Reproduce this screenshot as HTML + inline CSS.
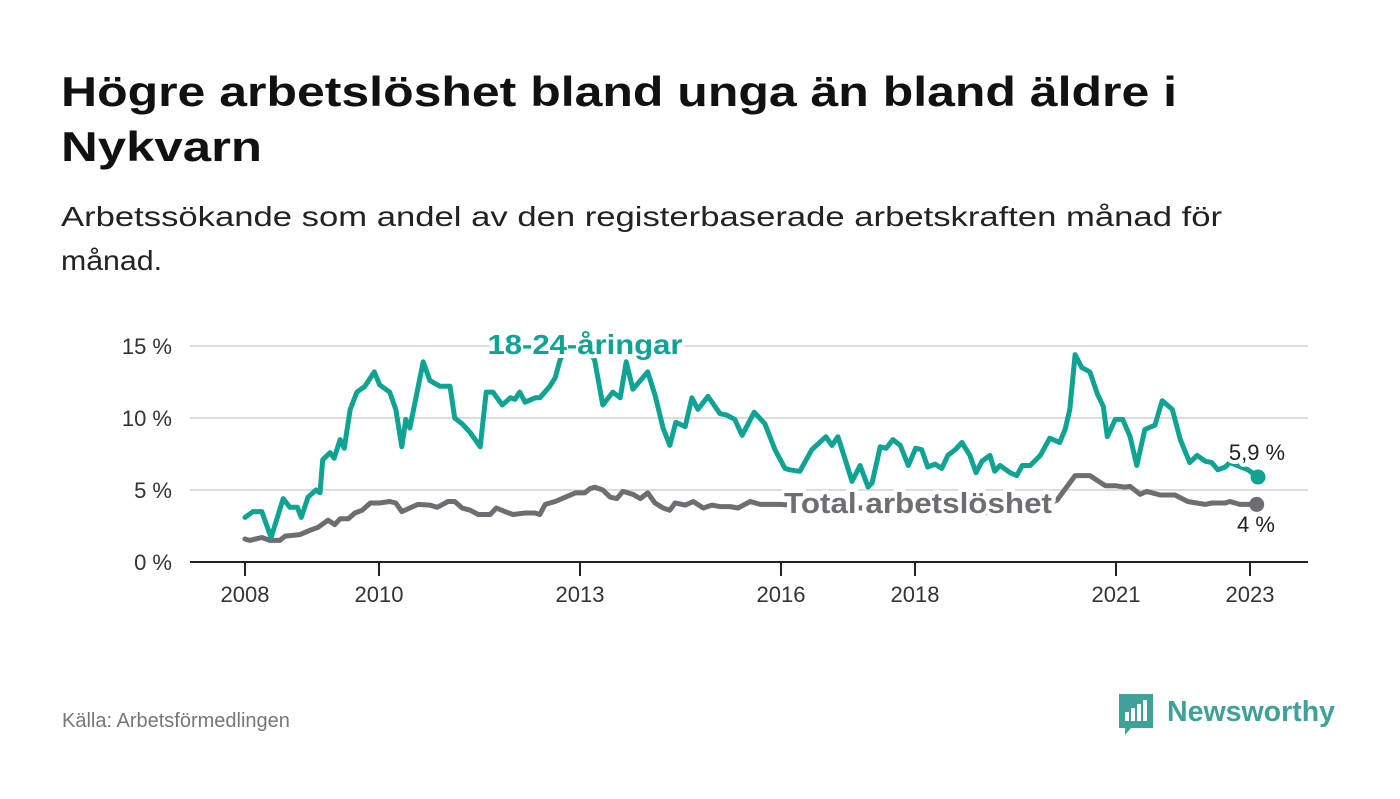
<!DOCTYPE html>
<html><head><meta charset="utf-8"><style>
body{margin:0;background:#fff;}
svg text{font-family:"Liberation Sans",sans-serif;}
</style></head><body>
<svg id="chart" width="1400" height="794" viewBox="0 0 1400 794" xmlns="http://www.w3.org/2000/svg">
<rect width="1400" height="794" fill="#fff"/>
<text x="61" y="106" font-size="42" font-weight="bold" fill="#111" textLength="1116" lengthAdjust="spacingAndGlyphs">Högre arbetslöshet bland unga än bland äldre i</text>
<text x="61" y="161" font-size="42" font-weight="bold" fill="#111" textLength="201" lengthAdjust="spacingAndGlyphs">Nykvarn</text>
<text x="61" y="226" font-size="28" fill="#222" textLength="1161" lengthAdjust="spacingAndGlyphs">Arbetssökande som andel av den registerbaserade arbetskraften månad för</text>
<text x="61" y="270" font-size="28" fill="#222" textLength="101" lengthAdjust="spacingAndGlyphs">månad.</text>
<g id="grid"></g>
<g id="series"></g>
<g id="labels"></g>
<text x="62" y="727" font-size="20" fill="#777">Källa: Arbetsförmedlingen</text>
<g>
<path d="M1119 694 h34 v34 h-22 l-6 7 v-7 h-6 z" fill="#3fa198"/>
<rect x="1125" y="712" width="4" height="9" fill="#fff"/><rect x="1131" y="708" width="4" height="13" fill="#fff"/><rect x="1137" y="704" width="4" height="17" fill="#fff"/><rect x="1143" y="700" width="4" height="21" fill="#fff"/>
<text x="1167" y="721" font-size="29" font-weight="bold" fill="#3fa198" textLength="168" lengthAdjust="spacingAndGlyphs">Newsworthy</text>
</g>
</svg>
<script>
const yTicks=[0,5,10,15];
const yTickLabels=["0 %","5 %","10 %","15 %"];
const xTicks=[2008,2010,2013,2016,2018,2021,2023];
const youthDates=[2008.00,2008.12,2008.25,2008.39,2008.57,2008.67,2008.78,2008.84,2008.94,2009.06,2009.12,2009.16,2009.27,2009.33,2009.42,2009.48,2009.57,2009.67,2009.79,2009.93,2010.01,2010.16,2010.25,2010.34,2010.40,2010.46,2010.66,2010.76,2010.91,2011.06,2011.13,2011.24,2011.36,2011.51,2011.60,2011.70,2011.84,2011.96,2012.03,2012.10,2012.18,2012.33,2012.40,2012.55,2012.63,2012.70,2012.81,2013.07,2013.22,2013.34,2013.49,2013.60,2013.69,2013.79,2013.90,2014.01,2014.12,2014.24,2014.34,2014.43,2014.57,2014.67,2014.76,2014.91,2015.09,2015.19,2015.31,2015.42,2015.60,2015.76,2015.91,2016.06,2016.13,2016.28,2016.46,2016.67,2016.76,2016.85,2016.96,2017.06,2017.18,2017.30,2017.36,2017.48,2017.57,2017.67,2017.78,2017.90,2018.01,2018.10,2018.19,2018.30,2018.40,2018.49,2018.60,2018.70,2018.82,2018.91,2019.00,2019.12,2019.19,2019.27,2019.42,2019.52,2019.60,2019.72,2019.87,2020.01,2020.16,2020.24,2020.31,2020.39,2020.49,2020.61,2020.72,2020.81,2020.87,2020.99,2021.10,2021.21,2021.31,2021.43,2021.58,2021.69,2021.84,2021.96,2022.10,2022.21,2022.33,2022.43,2022.52,2022.63,2022.70,2022.97,2023.12];
const youthValues=[3.1,3.5,3.5,1.7,4.4,3.8,3.8,3.1,4.5,5.0,4.8,7.1,7.6,7.2,8.5,7.9,10.6,11.8,12.2,13.2,12.3,11.8,10.6,8.0,9.9,9.3,13.9,12.6,12.2,12.2,10.0,9.6,9.0,8.0,11.8,11.8,10.9,11.4,11.3,11.8,11.1,11.4,11.4,12.2,12.8,14.0,15.0,15.2,14.0,10.9,11.8,11.4,13.9,12.0,12.6,13.2,11.6,9.3,8.1,9.7,9.4,11.4,10.6,11.5,10.3,10.2,9.9,8.8,10.4,9.6,7.8,6.5,6.4,6.3,7.8,8.7,8.1,8.7,7.1,5.6,6.7,5.2,5.5,8.0,7.9,8.5,8.1,6.7,7.9,7.8,6.6,6.8,6.5,7.4,7.8,8.3,7.4,6.2,7.0,7.4,6.3,6.7,6.2,6.0,6.7,6.7,7.4,8.6,8.3,9.2,10.6,14.4,13.5,13.2,11.7,10.8,8.7,9.9,9.9,8.7,6.7,9.2,9.5,11.2,10.6,8.5,6.9,7.4,7.0,6.9,6.4,6.6,6.9,6.4,5.9];
const totalDates=[2008.00,2008.07,2008.25,2008.37,2008.52,2008.60,2008.82,2008.97,2009.09,2009.24,2009.34,2009.42,2009.54,2009.64,2009.75,2009.87,2010.01,2010.16,2010.25,2010.34,2010.46,2010.58,2010.76,2010.87,2011.03,2011.13,2011.24,2011.36,2011.48,2011.66,2011.75,2011.88,2012.00,2012.18,2012.33,2012.40,2012.48,2012.63,2012.78,2012.93,2013.07,2013.15,2013.22,2013.34,2013.45,2013.55,2013.64,2013.79,2013.90,2014.01,2014.12,2014.24,2014.34,2014.42,2014.57,2014.69,2014.84,2014.97,2015.09,2015.24,2015.36,2015.54,2015.69,2015.99,2016.28,2016.88,2017.48,2018.07,2018.67,2019.27,2019.72,2020.12,2020.39,2020.61,2020.84,2020.99,2021.13,2021.21,2021.36,2021.46,2021.66,2021.88,2022.07,2022.33,2022.43,2022.63,2022.70,2022.85,2023.10];
const totalValues=[1.6,1.5,1.7,1.5,1.5,1.8,1.9,2.2,2.4,2.9,2.6,3.0,3.0,3.4,3.6,4.1,4.1,4.2,4.1,3.5,3.75,4.0,3.95,3.8,4.2,4.2,3.75,3.6,3.3,3.3,3.75,3.5,3.3,3.4,3.4,3.3,4.0,4.2,4.5,4.8,4.8,5.1,5.2,5.0,4.5,4.4,4.9,4.7,4.4,4.8,4.1,3.75,3.6,4.1,3.95,4.2,3.75,3.95,3.85,3.85,3.75,4.2,4.0,4.0,3.9,3.8,3.7,3.6,3.5,3.4,3.6,4.3,6.0,6.0,5.3,5.3,5.2,5.25,4.7,4.9,4.65,4.65,4.2,4.0,4.1,4.1,4.2,4.0,4.0];
const youthLast=5.9, totalLast=4;

const NS="http://www.w3.org/2000/svg";
const X0=190,X1=1308;
function xs(t){return 245+(t-2008)*67;}
function ys(v){return 562-v*14.4;}
function mk(tag,attrs,parent){const e=document.createElementNS(NS,tag);for(const k in attrs)e.setAttribute(k,attrs[k]);parent.appendChild(e);return e;}
const grid=document.getElementById('grid'),series=document.getElementById('series'),labels=document.getElementById('labels');
yTicks.forEach((v,i)=>{
  if(v>0){const g=mk('line',{x1:X0,x2:X1,y1:ys(v),y2:ys(v),stroke:'#dcdcdc','stroke-width':2},grid);
  
  }
  const t=mk('text',{x:172,y:ys(v)+8,'font-size':22,'text-anchor':'end',fill:'#333'},grid);
  t.textContent=yTickLabels[i];
  
  
});
const ax=mk('line',{x1:X0,x2:X1,y1:562,y2:562,stroke:'#222','stroke-width':2},grid);


xTicks.forEach(y=>{
  mk('line',{x1:xs(y),x2:xs(y),y1:562,y2:576,stroke:'#222','stroke-width':2},grid);
  const t=mk('text',{x:xs(y),y:602,'font-size':22,'text-anchor':'middle',fill:'#333'},grid);
  t.textContent=y;
  
  
});
function line(d,v,col,name){
  const p=mk('path',{d:d.map((t,i)=>(i?'L':'M')+xs(t).toFixed(1)+','+ys(v[i]).toFixed(1)).join(''),fill:'none',stroke:col,'stroke-width':5,'stroke-linejoin':'round','stroke-linecap':'round'},series);
  
  
}
line(totalDates,totalValues,'#6d6d72','total-line');
line(youthDates,youthValues,'#0fa394','youth-line');
const d1=mk('circle',{cx:xs(youthDates[youthDates.length-1]),cy:ys(youthLast),r:7.5,fill:'#0fa394'},series);


const d2=mk('circle',{cx:xs(totalDates[totalDates.length-1]),cy:ys(totalLast),r:7.5,fill:'#6d6d72'},series);


function lab(txt,x,y,size,col,bold,anchor,name,len){
  const a={x:x,y:y,'font-size':size,fill:col,'font-weight':bold?'bold':'normal','text-anchor':anchor,stroke:'#fff','stroke-width':8,'paint-order':'stroke','stroke-linejoin':'round'};
  if(len){a.textLength=len;a.lengthAdjust='spacingAndGlyphs';}
  const t=mk('text',a,labels);
  t.textContent=txt;
  
  
}
lab('18-24-åringar',585,354,28,'#0fa394',true,'middle','youth-series-label',195);
lab('Total arbetslöshet',918,513,29,'#6d6d72',true,'middle','total-series-label',268);
lab(String(youthLast).replace('.',',')+' %',1257,460,22,'#222',false,'middle','youth-end-value');
lab(totalLast+' %',1256,532,22,'#222',false,'middle','total-end-value');
</script>
</body></html>
